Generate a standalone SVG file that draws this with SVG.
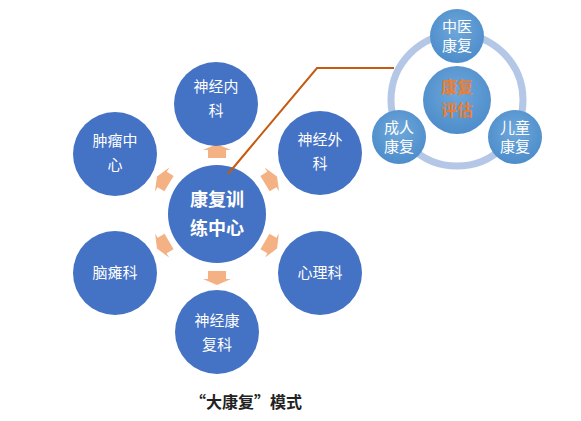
<svg xmlns="http://www.w3.org/2000/svg" width="581" height="421" viewBox="0 0 581 421">
<defs>
<radialGradient id="g" cx="50%" cy="40%" r="60%">
<stop offset="0" stop-color="#6FA7DA"/>
<stop offset="1" stop-color="#4D8DCB"/>
</radialGradient>
<polygon id="arr" points="0,-7 14,-1 9,-1 9,7 -9,7 -9,-1 -14,-1"/>
</defs>
<style>
.c{fill:#4472C4}
.s{fill:url(#g)}
.t{fill:#fff;font-family:"Noto Sans CJK SC",sans-serif;font-size:15px;text-anchor:middle}
.tb{fill:#fff;font-family:"Noto Sans CJK SC",sans-serif;font-size:18px;font-weight:bold;text-anchor:middle}
.ts{fill:#fff;font-family:"Noto Sans CJK SC",serif;font-size:15px;text-anchor:middle}
.te{fill:#ED7D31;font-family:"Noto Sans CJK SC",sans-serif;font-size:16px;font-weight:bold;text-anchor:middle}
.a{fill:#F4B183}
</style>
<rect width="581" height="421" fill="#fff"/>
<g id="connectors">
<g class="a">
<use href="#arr" transform="translate(217,151)"/>
<use href="#arr" transform="translate(217,278) rotate(180)"/>
<use href="#arr" transform="translate(163,180) rotate(-59)"/>
<use href="#arr" transform="translate(271,180) rotate(59)"/>
<use href="#arr" transform="translate(163,245) rotate(-120)"/>
<use href="#arr" transform="translate(271,245) rotate(120)"/>
</g>
<circle cx="457" cy="100" r="66" fill="none" stroke="#B4C7E7" stroke-width="7"/>
</g>
<g id="center">
<circle class="c" cx="217" cy="214" r="49"/>
<text class="tb" x="217" y="206">康复训</text>
<text class="tb" x="217" y="235">练中心</text>
</g>
<g id="n-top">
<circle class="c" cx="216" cy="104" r="42"/>
<text class="t" x="216" y="92">神经内</text>
<text class="t" x="216" y="116">科</text>
</g>
<g id="n-tl">
<circle class="c" cx="115" cy="154" r="42"/>
<text class="t" x="115" y="146">肿瘤中</text>
<text class="t" x="115" y="170">心</text>
</g>
<g id="n-tr">
<circle class="c" cx="320" cy="153" r="42"/>
<text class="t" x="320" y="145">神经外</text>
<text class="t" x="320" y="169">科</text>
</g>
<g id="n-bl">
<circle class="c" cx="115" cy="273" r="42"/>
<text class="t" x="115" y="278">脑瘫科</text>
</g>
<g id="n-br">
<circle class="c" cx="320" cy="273" r="42"/>
<text class="t" x="320" y="278">心理科</text>
</g>
<g id="n-bottom">
<circle class="c" cx="217" cy="332" r="42"/>
<text class="t" x="217" y="326">神经康</text>
<text class="t" x="217" y="350">复科</text>
</g>
<polyline id="link" points="228,174 317,68 394,68" fill="none" stroke="#C55A11" stroke-width="2"/>
<g id="eval">
<circle class="s" cx="457" cy="100" r="34"/>
<text class="te" x="457" y="93">康复</text>
<text class="te" x="457" y="116">评估</text>
</g>
<g id="tcm">
<circle class="s" cx="457" cy="36" r="27"/>
<text class="ts" x="457" y="32">中医</text>
<text class="ts" x="457" y="51">康复</text>
</g>
<g id="adult">
<circle class="s" cx="399" cy="137" r="27"/>
<text class="ts" x="399" y="133">成人</text>
<text class="ts" x="399" y="152">康复</text>
</g>
<g id="child">
<circle class="s" cx="515" cy="137" r="27"/>
<text class="ts" x="515" y="133">儿童</text>
<text class="ts" x="515" y="152">康复</text>
</g>
<text x="246" y="408" fill="#222" font-family="Noto Sans CJK SC,sans-serif" font-size="16" font-weight="bold" text-anchor="middle">“大康复”模式</text>
</svg>
